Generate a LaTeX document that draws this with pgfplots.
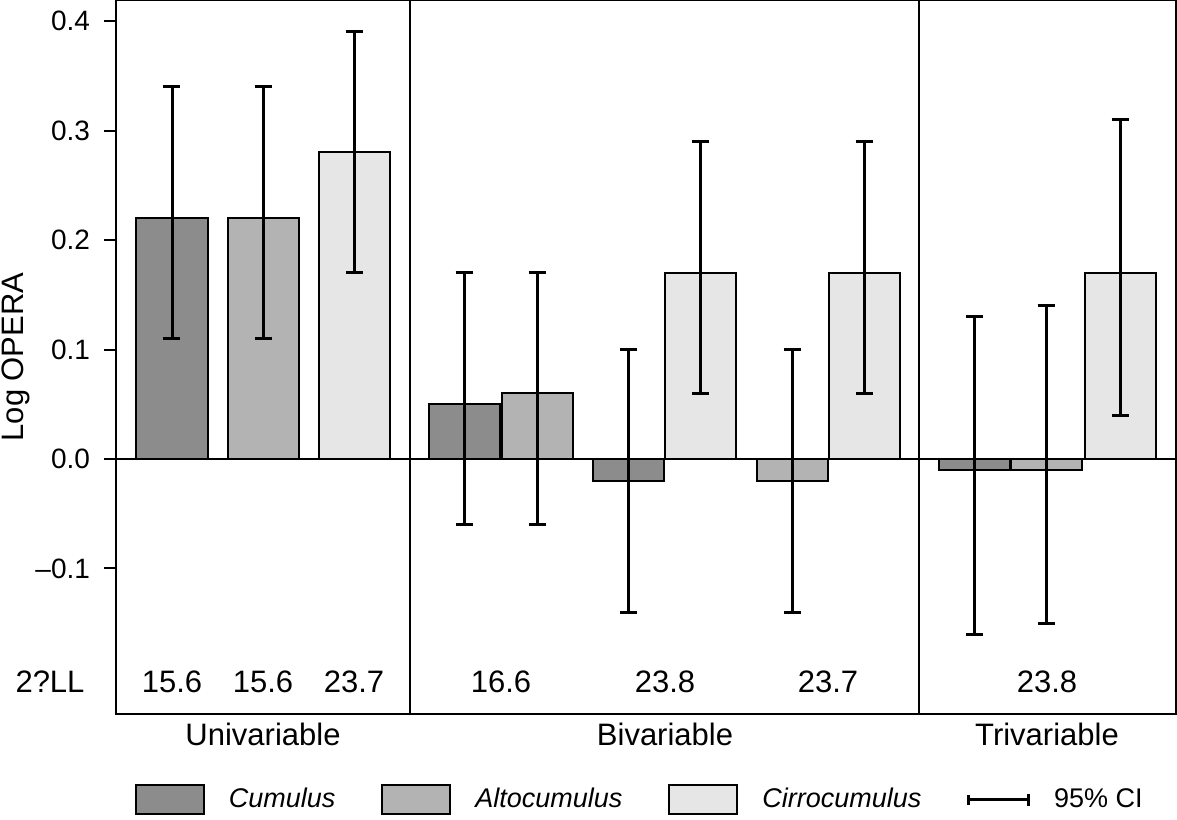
\documentclass[border=0pt]{standalone}
\usepackage{fontspec}
\setmainfont{Liberation Sans}
\usepackage{pgfplots}
\pgfplotsset{compat=1.18}
\usepackage{pgfplotstable}

\definecolor{cumulus}{HTML}{8C8C8C}
\definecolor{alto}{HTML}{B3B3B3}
\definecolor{cirro}{HTML}{E6E6E6}

% x = horizontal position of bar centre, y = log OPERA, ep/em = CI above/below
\pgfplotstableread{
x    y     ep    em
172  0.22  0.12  0.11
464  0.05  0.12  0.11
628  -0.02 0.12  0.12
974  -0.01 0.14  0.15
}\cumulus
\pgfplotstableread{
x    y     ep    em
263  0.22  0.12  0.11
537  0.06  0.11  0.12
792  -0.02 0.12  0.12
1046 -0.01 0.15  0.14
}\alto
\pgfplotstableread{
x    y     ep    em
354  0.28  0.11  0.11
700  0.17  0.12  0.11
864  0.17  0.12  0.11
1120 0.17  0.14  0.13
}\cirro

\begin{document}
\begin{tikzpicture}
\begin{axis}[
  scale only axis,
  width=530pt, height=357pt,
  xmin=116, xmax=1176,
  ymin=-0.2329, ymax=0.4192,
  axis line style={line width=1.4pt},
  clip=false,
  ybar, bar width=71, /pgf/bar shift=0pt,
  xtick={263,665,1047},
  xticklabels={Univariable,Bivariable,Trivariable},
  x tick style={draw=none},
  x tick label style={font=\fontsize{15.5}{18}\selectfont, yshift=5pt},
  extra x ticks={410,919},
  extra x tick labels={},
  extra x tick style={grid=major, major grid style={black, line width=0.8pt}, tick style={draw=none}},
  ytick={-0.1,0,0.1,0.2,0.3,0.4},
  yticklabels={--0.1,0.0,0.1,0.2,0.3,0.4},
  y tick label style={font=\fontsize{14}{16}\selectfont, xshift=-3.5pt},
  ytick pos=left, tick align=outside,
  major tick length=6pt,
  y tick style={line width=1pt, black},
  ylabel={Log OPERA},
  ylabel style={font=\fontsize{15.5}{18}\selectfont, at={(axis description cs:-0.0872,0.5)}, anchor=base},
  /pgf/number format/assume math mode=true,
  error bars/y dir=both, error bars/y explicit,
  error bars/error bar style={line width=1.5pt, black},
  error bars/error mark options={rotate=90, mark size=4.25pt, line width=1.5pt, black},
  legend columns=4,
  legend style={draw=none, at={(0.495,-0.12)}, anchor=center,
    font=\fontsize{13.5}{16}\selectfont\itshape,
    /tikz/every odd column/.append style={column sep=10pt},
    /tikz/every even column/.append style={column sep=21pt}},
  legend image code/.code={\draw[#1, line width=1pt] (0pt,-7.25pt) rectangle (34pt,7.25pt);},
]
\addplot[black, line width=1pt, forget plot, sharp plot] coordinates {(116,0) (1176,0)};
\addplot[fill=cumulus, draw=black, line width=1pt]
  table[x=x, y=y, y error plus=ep, y error minus=em] {\cumulus};
\addlegendentry{Cumulus}
\addplot[fill=alto, draw=black, line width=1pt]
  table[x=x, y=y, y error plus=ep, y error minus=em] {\alto};
\addlegendentry{Altocumulus}
\addplot[fill=cirro, draw=black, line width=1pt]
  table[x=x, y=y, y error plus=ep, y error minus=em] {\cirro};
\addlegendentry{Cirrocumulus}
\addlegendimage{legend image code/.code={\draw[black, line width=1.3pt] (4pt,-2.5pt)--(4pt,2.5pt) (4pt,0pt)--(34pt,0pt) (34pt,-3pt)--(34pt,3pt);}}
\addlegendentry{\upshape 95\% CI}
% -2 log likelihood row
\begin{scope}[every node/.style={font=\fontsize{15.5}{18}\selectfont}]
\node at (axis cs:50,-0.2037) {2?LL};
\node at (axis cs:172,-0.2037) {15.6};
\node at (axis cs:263,-0.2037) {15.6};
\node at (axis cs:354,-0.2037) {23.7};
\node at (axis cs:501,-0.2037) {16.6};
\node at (axis cs:665,-0.2037) {23.8};
\node at (axis cs:828,-0.2037) {23.7};
\node at (axis cs:1047,-0.2037) {23.8};
\end{scope}
\end{axis}
\pgfresetboundingbox
\path[use as bounding box] ([xshift=-58pt,yshift=-52.5pt]current axis.south west) rectangle ([xshift=0.5pt]current axis.north east);
\end{tikzpicture}
\end{document}
